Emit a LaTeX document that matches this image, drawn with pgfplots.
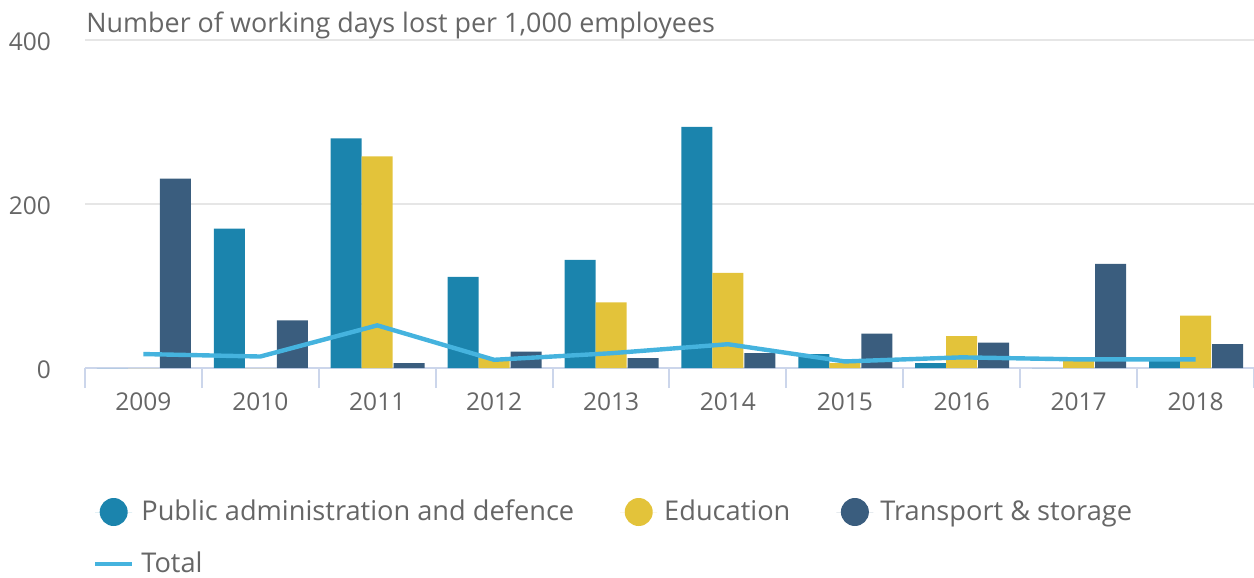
\documentclass[border=0pt]{standalone}
\usepackage{fontspec}
\setmainfont{Open Sans}
\usepackage{pgfplots}
\usepackage{pgfplotstable}
\pgfplotsset{compat=1.18}
\definecolor{cPub}{HTML}{1B84AD}
\definecolor{cEdu}{HTML}{E3C33A}
\definecolor{cTra}{HTML}{3A5D7E}
\definecolor{cTot}{HTML}{45B3DE}
\definecolor{cAx}{HTML}{CCD6EB}
\definecolor{cGrid}{HTML}{E6E6E6}
\definecolor{cTxt}{HTML}{666666}

\pgfplotstableread{
x pub edu tra tot
0 0   0   231 17
1 170 0   58  14
2 280 258 6   52
3 111 12  20  10
4 132 80  12  18
5 294 116 18  29
6 17  6   42  8
7 6   39  31  13
8 0   9   127 10.5
9 10  64  29  10.5
}\datatable

\begin{document}
\begin{tikzpicture}
\begin{axis}[
 at={(0,0)}, anchor=south west,
 scale only axis, width=584.5bp, height=164bp,
 xmin=-0.5, xmax=9.5, ymin=0, ymax=400,
 xtick={0,...,9},
 xticklabels={2009,2010,2011,2012,2013,2014,2015,2016,2017,2018},
 minor xtick={-0.5,0.5,...,9.5},
 ytick={0,200,400},
 axis x line*=bottom, axis y line*=left,
 y axis line style={draw=none},
 x axis line style={cAx, line width=1bp},
 major tick length=0pt, minor tick length=10bp, tick align=outside,
 minor tick style={cAx, line width=1bp},
 ymajorgrids, grid style={cGrid, line width=0.75bp},
 tick label style={font=\fontsize{12.3}{14}\selectfont, text=cTxt},
 xticklabel style={yshift=-9bp},
 yticklabel style={xshift=-13.5bp, yshift=-1bp},
 /pgf/number format/assume math mode=true,
 clip=false,
 legend columns=3,
 legend cell align=left,
 legend style={at={(axis description cs:0,0)}, anchor=north west,
   xshift=4bp, yshift=-65bp, draw=none, fill=none, inner sep=0pt, outer sep=0pt,
   font=\fontsize{13.65}{16}\selectfont, text=cTxt,
   nodes={inner sep=0pt},
   row sep=13bp,
   /tikz/every odd column/.append style={column sep=3.5bp},
   /tikz/every even column/.append style={column sep=23bp}},
]
\addplot[ybar, bar width=15.5bp, bar shift=-15.5bp, fill=cPub, draw=none,
  legend image code/.code={\path (-9.25bp,0) -- (9.25bp,0); \fill[cPub] (0,0) circle (7bp);}]
  table[x=x, y=pub] {\datatable};
\addlegendentry{Public administration and defence}
\addplot[ybar, bar width=15.5bp, bar shift=0bp, fill=cEdu, draw=none,
  legend image code/.code={\path (-9.25bp,0) -- (9.25bp,0); \fill[cEdu] (0,0) circle (7bp);}]
  table[x=x, y=edu] {\datatable};
\addlegendentry{Education}
\addplot[ybar, bar width=15.5bp, bar shift=16bp, fill=cTra, draw=none,
  legend image code/.code={\path (-9.25bp,0) -- (9.25bp,0); \fill[cTra] (0,0) circle (7bp);}]
  table[x=x, y=tra] {\datatable};
\addlegendentry{Transport \& storage}
\addplot[cTot, line width=2.2bp, mark=none,
  legend image code/.code={\draw[cTot, line width=2.2bp] (-9.25bp,0) -- (9.25bp,0);}]
  table[x=x, y=tot] {\datatable};
\addlegendentry{Total}
\node[anchor=base west, inner sep=0pt, text=cTxt, font=\fontsize{13.5}{16}\selectfont]
  at (rel axis cs:0,1) [xshift=0.5bp, yshift=4bp] {Number of working days lost per 1,000 employees};
\end{axis}
\pgfresetboundingbox
\useasboundingbox (-42.5bp,-105bp) rectangle (584.5bp,184bp);
\end{tikzpicture}
\end{document}
